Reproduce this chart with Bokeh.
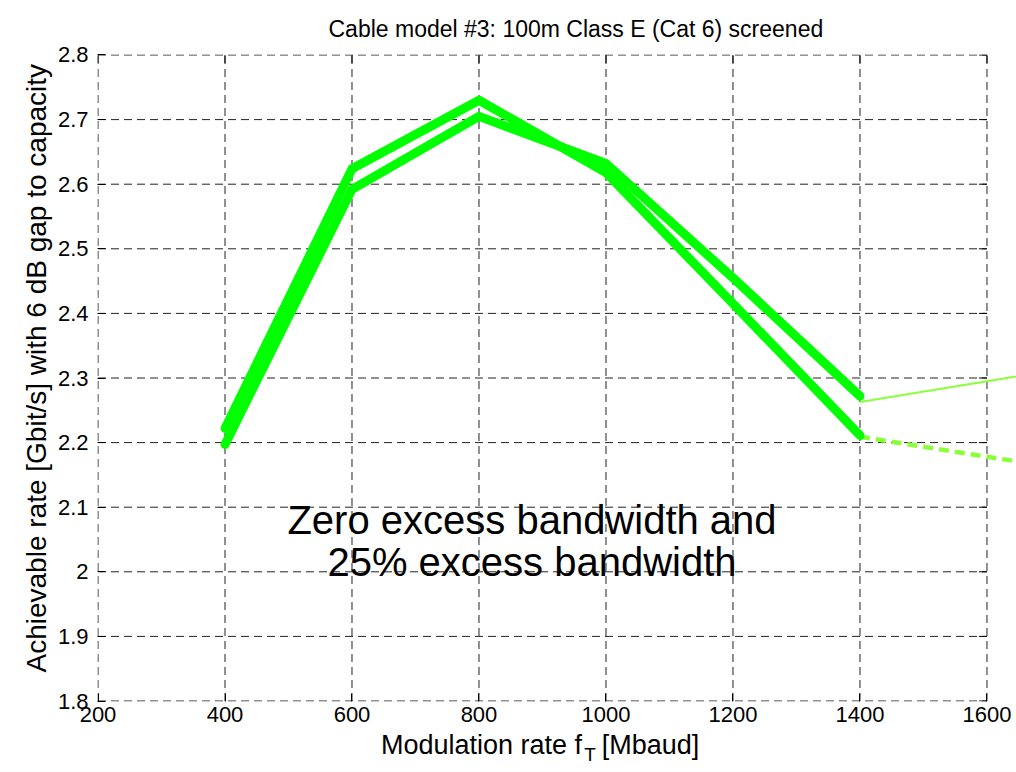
from bokeh.plotting import figure
from bokeh.models import Range1d, FixedTicker, Label, CustomJSTickFormatter, LinearAxis, Title
from bokeh.embed import file_html
from bokeh.resources import INLINE

# ---- data ----
rates = [400, 600, 800, 1000, 1200, 1400]
rate_a = [2.222, 2.624, 2.730, 2.618, 2.415, 2.211]
rate_b = [2.197, 2.592, 2.705, 2.632, 2.455, 2.272]
ext_x = [1400, 1600, 1800]
ext_solid = [2.263, 2.295, 2.327]
ext_dashed = [2.209, 2.178, 2.148]
x_ticks = [200, 400, 600, 800, 1000, 1200, 1400, 1600]
y_ticks = [1.8, 1.9, 2.0, 2.1, 2.2, 2.3, 2.4, 2.5, 2.6, 2.7, 2.8]

title_text = "Cable model #3: 100m Class E (Cat 6) screened"
y_label_text = "Achievable rate [Gbit/s] with 6 dB gap to capacity"
x_label_main = "Modulation rate f"
x_label_sub = "T"
x_label_tail = "[Mbaud]"
note_line1 = "Zero excess bandwidth and"
note_line2 = "25% excess bandwidth"

FONT = "Liberation Sans"
THICK = "#00ff00"
THIN = "#8cff3c"
GRID = "#222222"

p = figure(width=1016, height=772, output_backend="svg", toolbar_location=None,
           x_range=Range1d(199.2, 1646.5), y_range=Range1d(1.79923, 2.80077),
           min_border_left=97, min_border_right=0, min_border_top=53, min_border_bottom=71)
p.outline_line_color = None
p.background_fill_color = "white"
p.xgrid.visible = False
p.ygrid.visible = False

p.title.text = title_text
p.title.align = "left"
p.title.offset = 231
p.title.text_font = FONT
p.title.text_font_size = "23px"
p.title.text_font_style = "normal"
p.title.text_color = "black"
p.title.standoff = 26

for ax in (p.xaxis[0], p.yaxis[0]):
    ax.axis_line_color = None
    ax.major_tick_in = 8
    ax.major_tick_out = 0
    ax.minor_tick_line_color = None
    ax.major_tick_line_color = "black"
    ax.major_label_text_font = FONT
    ax.major_label_text_font_size = "22px"
    ax.major_label_text_color = "black"

p.xaxis.ticker = FixedTicker(ticks=x_ticks)
p.yaxis.ticker = FixedTicker(ticks=y_ticks)
p.yaxis.formatter = CustomJSTickFormatter(code="return (Math.round(tick*10)/10).toString();")
p.xaxis.major_label_standoff = 5
p.yaxis.major_label_standoff = 9

# y-axis title
p.add_layout(Title(text=y_label_text, align="left", offset=29, text_font=FONT,
                   text_font_size="28px", text_font_style="normal", text_color="black",
                   standoff=6), "left")

# x-axis title built from two extra label rows (main text, then subscript)
main_pos = [804, 1070]
sub_pos = [975]
ax_main = LinearAxis(ticker=FixedTicker(ticks=main_pos),
                     major_label_overrides={main_pos[0]: x_label_main, main_pos[1]: x_label_tail})
ax_sub = LinearAxis(ticker=FixedTicker(ticks=sub_pos),
                    major_label_overrides={sub_pos[0]: x_label_sub})
for ax, size, stand in ((ax_main, "27px", 5), (ax_sub, "19px", -19)):
    ax.axis_line_color = None
    ax.major_tick_line_color = None
    ax.minor_tick_line_color = None
    ax.major_tick_in = 0
    ax.major_tick_out = 0
    ax.major_label_text_font = FONT
    ax.major_label_text_font_size = size
    ax.major_label_text_color = "black"
    ax.major_label_standoff = stand
    p.add_layout(ax, "below")

# grid (dashed, bounded to the tick span)
n = len(x_ticks)
m = len(y_ticks)
p.segment(x0=x_ticks, y0=[y_ticks[0]] * n, x1=x_ticks, y1=[y_ticks[-1]] * n,
          line_color=GRID, line_width=1, line_dash="8 5")
p.segment(x0=[x_ticks[0]] * m, y0=y_ticks, x1=[x_ticks[-1]] * m, y1=y_ticks,
          line_color=GRID, line_width=1, line_dash="8 5")

# inward ticks on the top and right edges of the box
tick_dy = 0.0124
tick_dx = 12.6
p.segment(x0=x_ticks, y0=[y_ticks[-1]] * n, x1=x_ticks, y1=[y_ticks[-1] - tick_dy] * n,
          line_color="black", line_width=1)
p.segment(x0=[x_ticks[-1]] * m, y0=y_ticks, x1=[x_ticks[-1] - tick_dx] * m, y1=y_ticks,
          line_color="black", line_width=1)

# thin continuations
p.line(ext_x, ext_solid, line_color=THIN, line_width=2)
p.line(ext_x, ext_dashed, line_color=THIN, line_width=4.5, line_dash="10 6")

# thick curves
p.line(rates, rate_a, line_color=THICK, line_width=9, line_cap="round", line_join="round")
p.line(rates, rate_b, line_color=THICK, line_width=9, line_cap="round", line_join="round")

# annotation
p.add_layout(Label(x=883.5, y=2.0805, text=note_line1, text_align="center", text_baseline="middle",
                   text_font=FONT, text_font_size="40px", text_color="black"))
p.add_layout(Label(x=883.5, y=2.0156, text=note_line2, text_align="center", text_baseline="middle",
                   text_font=FONT, text_font_size="40px", text_color="black"))

open("out.html", "w").write(file_html(p, INLINE))
